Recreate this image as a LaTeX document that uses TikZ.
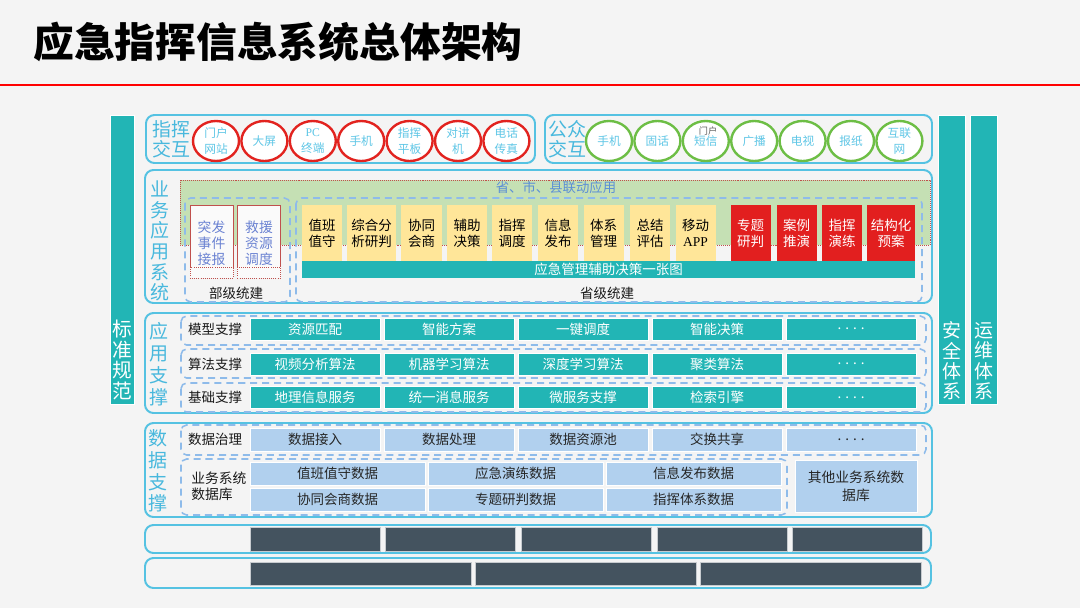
\documentclass[tikz,border=0pt]{standalone}
\usepackage{fontspec}
\setmainfont{Noto Sans CJK SC}
\newfontfamily\latinserif{Liberation Serif}
\usepackage{xcolor}
\usepackage{tikz}
\usetikzlibrary{positioning,shapes.geometric}

\definecolor{bgGray}{HTML}{F4F4F4}
\definecolor{titleRed}{HTML}{FF0000}
\definecolor{sysTeal}{HTML}{22B5B5}
\definecolor{frameBlue}{HTML}{55C2E2}
\definecolor{labelBlue}{HTML}{48B8DD}
\definecolor{ellText}{HTML}{5EC6E6}
\definecolor{ellRed}{HTML}{E2231F}
\definecolor{ellGreen}{HTML}{6DBE45}
\definecolor{areaGreen}{HTML}{C5E0B4}
\definecolor{dashBlue}{HTML}{8EBBEA}
\definecolor{boxYellow}{HTML}{FFE699}
\definecolor{boxRed}{HTML}{E21F1F}
\definecolor{darkRed}{HTML}{C0504D}
\definecolor{dataBlue}{HTML}{B1D0EE}
\definecolor{slate}{HTML}{44535F}
\definecolor{linkBlue}{HTML}{6A82D2}
\definecolor{areaText}{HTML}{5B8FD6}

\begin{document}
\begin{tikzpicture}[x=0.025cm, y=-0.025cm,
  panel/.style={draw=frameBlue, line width=1.4pt, rounded corners=6pt},
  sidebar/.style={fill=sysTeal, draw=white, line width=0.4pt, inner sep=0pt},
  vlbl/.style={text=labelBlue, align=center, inner sep=0pt},
  cmd/.style={ellipse, draw=ellRed, line width=1.7pt, fill=white, minimum width=1.15cm, minimum height=1.0cm, inner sep=0pt, text=ellText, align=center, font=\fontsize{8.3}{11}\selectfont},
  pub/.style={cmd, draw=ellGreen},
  app/.style={fill=boxYellow, minimum width=1.0cm, minimum height=1.4cm, inner sep=0pt, align=center, font=\fontsize{9.6}{11.5}\selectfont},
  topic/.style={app, fill=boxRed, text=white},
  svc/.style={fill=sysTeal, draw=white, line width=0.5pt, outer sep=0pt, minimum width=3.25cm, minimum height=0.55cm, inner sep=0pt, text=white, font=\fontsize{9.6}{11}\selectfont},
  dat/.style={svc, fill=dataBlue, text=black!85, minimum height=0.575cm},
  slab/.style={fill=slate, draw=white!70!slate, line width=0.5pt, outer sep=0pt, minimum height=0.6cm, inner sep=0pt},
  dashrow/.style={draw=dashBlue, line width=1.1pt, dash pattern=on 5pt off 3.5pt, rounded corners=4pt},
  rowlbl/.style={font=\fontsize{9.6}{11.5}\selectfont, inner sep=0pt, text=black!90},
  legacy/.style={draw=darkRed, line width=0.5pt, fill=white!55!bgGray, minimum width=1.075cm, inner sep=0pt}
]
\useasboundingbox (0,0) rectangle (1080,608);
\fill[bgGray] (0,0) rectangle (1080,608);

% title
\node[anchor=west, inner sep=0pt, font=\fontsize{29}{30}\selectfont\bfseries] (title) at (33,42) {应急指挥信息系统总体架构};
\draw[titleRed, line width=2pt] (0,85) -- (1080,85);

% side bars
\node[sidebar, minimum width=0.6cm, minimum height=7.225cm] (std) at (122,259.5) {};
\node[vlbl, text=white, font=\fontsize{14}{14.8}\selectfont] (stdtxt) at (122,360) {标\\准\\规\\范};
\node[sidebar, minimum width=0.675cm, minimum height=7.225cm] (sec) at (951.5,259.5) {};
\node[vlbl, text=white, font=\fontsize{13.5}{14.5}\selectfont] (sectxt) at (951.5,361) {安\\全\\体\\系};
\node[sidebar, minimum width=0.675cm, minimum height=7.225cm] (ops) at (983.5,259.5) {};
\node[vlbl, text=white, font=\fontsize{13.5}{14.5}\selectfont] (opstxt) at (983.5,361) {运\\维\\体\\系};

% command interaction
\draw[panel] (146,115) rectangle (535,163);
\node[vlbl, font=\fontsize{13.5}{14.2}\selectfont] (cmdlbl) at (171,139) {指挥\\交互};
\node[cmd] (c1) at (216,141) {门户\\网站};
\node[cmd, right=0pt of c1] (c2) {大屏};
\node[cmd, right=0pt of c2] (c3) {{\latinserif PC}\\终端};
\node[cmd, right=0pt of c3] (c4) {手机};
\node[cmd, right=0pt of c4] (c5) {指挥\\平板};
\node[cmd, right=0pt of c5] (c6) {对讲\\机};
\node[cmd, right=0pt of c6] (c7) {电话\\传真};

% public interaction
\draw[panel] (545,115) rectangle (932,163);
\node[vlbl, font=\fontsize{13.5}{14.2}\selectfont] (publbl) at (567,139) {公众\\交互};
\node[pub] (p1) at (609,141) {手机};
\node[pub, right=0pt of p1] (p2) {固话};
\node[pub, right=0pt of p2] (p3) {短信};
\node[pub, right=0pt of p3] (p4) {广播};
\node[pub, right=0pt of p4] (p5) {电视};
\node[pub, right=0pt of p5] (p6) {报纸};
\node[pub, right=0pt of p6] (p7) {互联\\网};
\node[inner sep=0pt, text=black!65, font=\fontsize{6.5}{7}\selectfont] (p3tag) at (708,131) {门户};

% business applications
\draw[panel] (145,170) rectangle (932,303);
\node[vlbl, font=\fontsize{13.5}{14.7}\selectfont] (bizlbl) at (160,241) {业\\务\\应\\用\\系\\统};
\draw[fill=areaGreen, draw=darkRed, line width=0.4pt, densely dotted] (180,180) rectangle (930,245);
\node[inner sep=0pt, text=areaText, font=\fontsize{9.5}{11}\selectfont] (linked) at (556,187) {省、市、县联动应用};
\draw[dashrow] (185,198) rectangle (290,302);
\draw[dashrow] (296,198) rectangle (922,302);
\node[rowlbl] (deptlbl) at (236,293) {部级统建};
\node[rowlbl] (provlbl) at (607,293) {省级统建};

\node[legacy, minimum height=1.55cm] (dept1) at (211.5,236) {};
\node[legacy, minimum height=0.275cm, densely dotted] (dept1x) at (211.5,272.5) {};
\node[inner sep=0pt, align=center, text=linkBlue, font=\fontsize{9.8}{11.3}\selectfont] (dept1txt) at (211.5,243) {突发\\事件\\接报};
\node[legacy, minimum height=1.55cm] (dept2) at (259,236) {};
\node[legacy, minimum height=0.275cm, densely dotted] (dept2x) at (259,272.5) {};
\node[inner sep=0pt, align=center, text=linkBlue, font=\fontsize{9.8}{11.3}\selectfont] (dept2txt) at (259,243) {救援\\资源\\调度};

\node[app] (a1) at (322,233) {值班\\值守};
\node[app, minimum width=1.225cm] (a2) at (371.5,233) {综合分\\析研判};
\node[app] (a3) at (421.5,233) {协同\\会商};
\node[app] (a4) at (467,233) {辅助\\决策};
\node[app] (a5) at (512,233) {指挥\\调度};
\node[app] (a6) at (558,233) {信息\\发布};
\node[app] (a7) at (603.5,233) {体系\\管理};
\node[app] (a8) at (650,233) {总结\\评估};
\node[app] (a9) at (695.5,233) {移动\\{\latinserif APP}};
\node[topic] (t1) at (750.5,233) {专题\\研判};
\node[topic] (t2) at (796.5,233) {案例\\推演};
\node[topic] (t3) at (842,233) {指挥\\演练};
\node[topic, minimum width=1.2cm] (t4) at (891,233) {结构化\\预案};
\node[svc, draw=none, minimum width=15.325cm, minimum height=0.425cm] (onemap) at (608.5,269.5) {应急管理辅助决策一张图};

% application support
\draw[panel] (145,313) rectangle (932,413);
\node[vlbl, font=\fontsize{13.5}{15.6}\selectfont] (suplbl) at (159,364) {应\\用\\支\\撑};
\draw[dashrow] (181,316) rectangle (926,345);
\draw[dashrow] (181,349) rectangle (926,378);
\draw[dashrow] (181,383) rectangle (926,412);
\node[rowlbl] (modlbl) at (215,329) {模型支撑};
\node[rowlbl] (alglbl) at (215,364) {算法支撑};
\node[rowlbl] (baselbl) at (215,397.5) {基础支撑};

\node[svc] (m1) at (315,329) {资源匹配};
\node[svc, right=0.1cm of m1] (m2) {智能方案};
\node[svc, right=0.1cm of m2] (m3) {一键调度};
\node[svc, right=0.1cm of m3] (m4) {智能决策};
\node[svc, right=0.1cm of m4] (m5) {. . . .};

\node[svc] (g1) at (315,364) {视频分析算法};
\node[svc, right=0.1cm of g1] (g2) {机器学习算法};
\node[svc, right=0.1cm of g2] (g3) {深度学习算法};
\node[svc, right=0.1cm of g3] (g4) {聚类算法};
\node[svc, right=0.1cm of g4] (g5) {. . . .};

\node[svc] (b1) at (315,397.5) {地理信息服务};
\node[svc, right=0.1cm of b1] (b2) {统一消息服务};
\node[svc, right=0.1cm of b2] (b3) {微服务支撑};
\node[svc, right=0.1cm of b3] (b4) {检索引擎};
\node[svc, right=0.1cm of b4] (b5) {. . . .};

% data support
\draw[panel] (145,423) rectangle (932,517);
\node[vlbl, font=\fontsize{13.5}{15.4}\selectfont] (datlbl) at (158,471) {数\\据\\支\\撑};
\draw[dashrow] (181,425) rectangle (926,455);
\draw[dashrow] (181,459) rectangle (787,515);
\node[rowlbl] (govlbl) at (215,439.5) {数据治理};
\node[rowlbl, anchor=west, align=left, font=\fontsize{9.8}{11.3}\selectfont] (dblbl) at (191,486) {业务系统\\数据库};

\node[dat] (d1) at (315,439.5) {数据接入};
\node[dat, right=0.1cm of d1] (d2) {数据处理};
\node[dat, right=0.1cm of d2] (d3) {数据资源池};
\node[dat, right=0.1cm of d3] (d4) {交换共享};
\node[dat, right=0.1cm of d4] (d5) {. . . .};

\node[dat, minimum width=4.375cm] (e1) at (337.5,473.5) {值班值守数据};
\node[dat, minimum width=4.375cm, right=0.075cm of e1] (e2) {应急演练数据};
\node[dat, minimum width=4.375cm, right=0.075cm of e2] (e3) {信息发布数据};
\node[dat, minimum width=4.375cm] (f1) at (337.5,499.5) {协同会商数据};
\node[dat, minimum width=4.375cm, right=0.075cm of f1] (f2) {专题研判数据};
\node[dat, minimum width=4.375cm, right=0.075cm of f2] (f3) {指挥体系数据};
\node[dat, minimum width=3.05cm, minimum height=1.3cm, align=center, font=\fontsize{9.8}{12.5}\selectfont] (otherdb) at (856,486) {其他业务系统数\\据库};

% bottom layers
\draw[panel] (145,525) rectangle (931,553);
\node[slab, minimum width=3.25cm] (s1) at (315,539) {};
\node[slab, minimum width=3.25cm, right=0.14cm of s1] (s2) {};
\node[slab, minimum width=3.25cm, right=0.14cm of s2] (s3) {};
\node[slab, minimum width=3.25cm, right=0.14cm of s3] (s4) {};
\node[slab, minimum width=3.25cm, right=0.14cm of s4] (s5) {};

\draw[panel] (145,558) rectangle (931,588);
\node[slab, minimum width=5.525cm, minimum height=0.575cm] (r1) at (360.5,573.5) {};
\node[slab, minimum width=5.525cm, minimum height=0.575cm, right=0.1cm of r1] (r2) {};
\node[slab, minimum width=5.525cm, minimum height=0.575cm, right=0.1cm of r2] (r3) {};

\end{tikzpicture}
\end{document}
